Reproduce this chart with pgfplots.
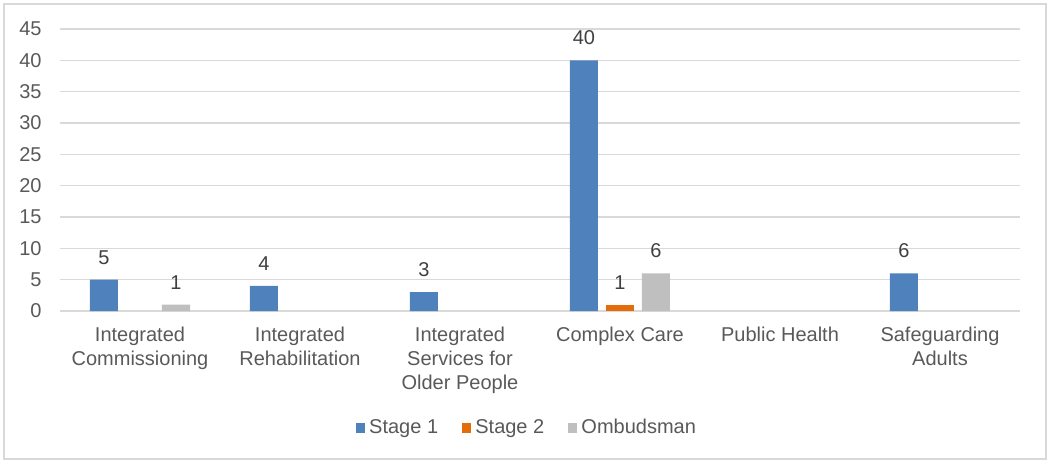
\documentclass[border=0pt]{standalone}
\usepackage{pgfplots}
\pgfplotsset{compat=1.18}
\usepackage{fontspec}
\setmainfont{Liberation Sans}
\definecolor{sone}{HTML}{4F81BD}
\definecolor{stwo}{HTML}{E46C0A}
\definecolor{somb}{HTML}{BFBFBF}
\definecolor{gridc}{HTML}{D9D9D9}
\definecolor{txt}{HTML}{595959}
\definecolor{lbl}{HTML}{404040}
\begin{document}
\begin{tikzpicture}
% picture = 1050x463 px, 1 px = 0.5pt; plot area spans x 60..1020, y 29..311
\useasboundingbox (-30pt,-76pt) rectangle (495pt,155.5pt);
\draw[gridc, line width=0.8pt] (-28pt,-74pt) rectangle (493pt,153.5pt);
\begin{axis}[
    scale only axis,
    width=480pt, height=141pt,
    ybar=4pt, bar width=14pt,
    xmin=-0.5, xmax=5.5,
    ymin=0, ymax=45,
    ytick={0,5,...,45},
    xtick={0,1,2,3,4,5},
    xticklabels={Integrated\\Commissioning, Integrated\\Rehabilitation, Integrated\\Services for\\Older People, Complex Care, Public Health, Safeguarding\\Adults},
    ymajorgrids,
    grid style={gridc, line width=0.6pt},
    axis line style={draw=none},
    major tick length=0pt,
    /pgf/number format/assume math mode=true,
    tick label style={font=\fontsize{10}{12}\selectfont, text=txt},
    xticklabel style={align=center, anchor=north, inner sep=0pt, yshift=-8pt},
    yticklabel style={anchor=east, inner sep=0pt, xshift=-9pt},
    nodes near coords,
    every node near coord/.append style={font=\fontsize{10}{12}\selectfont, text=lbl, anchor=south, inner sep=0pt, yshift=7.5pt},
    legend columns=-1,
    legend style={draw=none, at={(0.4875,-0.415)}, anchor=center,
        font=\fontsize{10}{12}\selectfont, text=txt,
        /tikz/every even column/.append style={column sep=10pt}},
    legend image code/.code={\fill[#1] (0pt,-2.3pt) rectangle (4.6pt,2.3pt);},
]
\addplot[fill=sone, draw=none] coordinates {(0,5) (1,4) (2,3) (3,40) (5,6)};
\addplot[fill=stwo, draw=none] coordinates {(3,1)};
\addplot[fill=somb, draw=none] coordinates {(0,1) (3,6)};
\legend{Stage 1, Stage 2, Ombudsman}
\end{axis}
\end{tikzpicture}
\end{document}
